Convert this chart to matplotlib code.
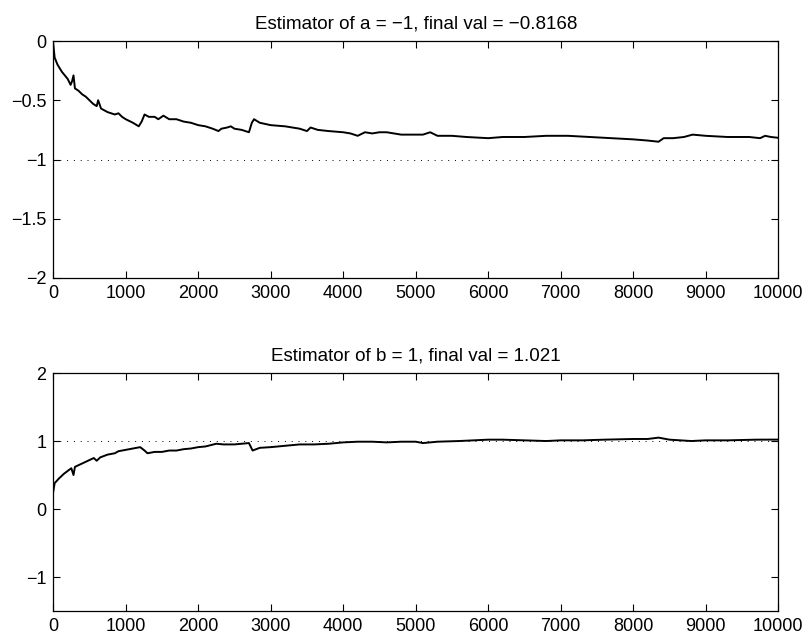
import matplotlib
matplotlib.use("Agg")
from matplotlib import pyplot as plt

plt.rcParams['font.family'] = ['Liberation Sans', 'DejaVu Sans']

# estimator of a
a_iter = [0, 20, 60, 120, 200, 240, 260, 280, 300, 350, 400, 450, 500, 550, 600, 620, 660,
          750, 850, 900, 950, 1000, 1100, 1180, 1220, 1260, 1320, 1400, 1450, 1520, 1600,
          1700, 1800, 1900, 2000, 2100, 2200, 2280, 2320, 2400, 2450, 2500, 2600, 2700,
          2740, 2770, 2850, 3000, 3200, 3400, 3500, 3550, 3650, 3800, 4000, 4100, 4200,
          4300, 4400, 4500, 4600, 4800, 5000, 5100, 5200, 5300, 5500, 5700, 6000, 6200,
          6500, 6800, 7100, 7400, 7700, 8000, 8200, 8350, 8420, 8550, 8700, 8820, 9000,
          9300, 9600, 9750, 9820, 9900, 10000]
a_est = [-0.02, -0.14, -0.20, -0.26, -0.32, -0.37, -0.34, -0.29, -0.40, -0.42, -0.45, -0.47,
         -0.50, -0.53, -0.55, -0.50, -0.57, -0.60, -0.62, -0.61, -0.64, -0.66, -0.69, -0.72,
         -0.68, -0.62, -0.64, -0.64, -0.66, -0.63, -0.66, -0.66, -0.68, -0.69, -0.71, -0.72,
         -0.74, -0.76, -0.74, -0.73, -0.72, -0.74, -0.75, -0.77, -0.69, -0.66, -0.69, -0.71,
         -0.72, -0.74, -0.76, -0.73, -0.75, -0.76, -0.77, -0.78, -0.80, -0.77, -0.78, -0.77,
         -0.77, -0.79, -0.79, -0.79, -0.77, -0.80, -0.80, -0.81, -0.82, -0.81, -0.81, -0.80,
         -0.80, -0.81, -0.82, -0.83, -0.84, -0.85, -0.82, -0.82, -0.81, -0.79, -0.80, -0.81,
         -0.81, -0.82, -0.80, -0.81, -0.8168]

# estimator of b
b_iter = [0, 20, 80, 150, 200, 250, 280, 300, 400, 500, 560, 600, 650, 750, 850, 900, 1000,
          1100, 1200, 1260, 1300, 1400, 1500, 1600, 1700, 1800, 1900, 2000, 2100, 2250, 2350,
          2500, 2600, 2700, 2750, 2850, 3000, 3200, 3400, 3600, 3800, 4000, 4200, 4400, 4600,
          4800, 5000, 5100, 5300, 5600, 6000, 6200, 6500, 6800, 7000, 7300, 7600, 8000, 8200,
          8350, 8500, 8800, 9000, 9300, 9700, 10000]
b_est = [0.25, 0.38, 0.45, 0.52, 0.56, 0.60, 0.50, 0.62, 0.67, 0.72, 0.75, 0.71, 0.76, 0.80,
         0.82, 0.85, 0.87, 0.89, 0.91, 0.86, 0.82, 0.84, 0.84, 0.86, 0.86, 0.88, 0.89, 0.91,
         0.92, 0.96, 0.95, 0.95, 0.96, 0.97, 0.86, 0.90, 0.91, 0.93, 0.95, 0.95, 0.96, 0.98,
         0.99, 0.99, 0.98, 0.99, 0.99, 0.97, 0.99, 1.00, 1.02, 1.02, 1.01, 1.00, 1.01, 1.01,
         1.02, 1.03, 1.03, 1.05, 1.02, 1.00, 1.01, 1.01, 1.02, 1.021]

a_true = -1
b_true = 1
n_iter = 10000


def minus(s):
    return s.replace('-', '\u2212')


fig = plt.figure(figsize=(8.06, 6.37), dpi=100)
ax1 = fig.add_axes([0.066, 0.5636, 0.8995, 0.372])
ax2 = fig.add_axes([0.066, 0.0408, 0.8995, 0.3736])

panels = [
    (ax1, a_iter, a_est, a_true, (-2, 0), [-2, -1.5, -1, -0.5, 0], 'a'),
    (ax2, b_iter, b_est, b_true, (-1.5, 2), [-1, 0, 1, 2], 'b'),
]

for ax, xs, ys, true_val, ylim, yticks, name in panels:
    ax.plot(xs, ys, color='black', lw=1.4)
    ax.plot([0, n_iter], [true_val, true_val], color='black', lw=0.7, linestyle=(0, (1, 6)))
    ax.set_xlim(0, n_iter)
    ax.set_ylim(*ylim)
    ax.set_xticks(range(0, n_iter + 1, 1000))
    ax.set_yticks(yticks)
    ax.set_yticklabels([minus('%g' % t) for t in yticks])
    ax.tick_params(direction='in', top=True, right=True, length=5, width=0.8, labelsize=13, pad=5)
    for sp in ax.spines.values():
        sp.set_linewidth(0.9)
    ax.set_title('Estimator of %s = %s, final val = %s' % (name, minus('%g' % true_val),
                 minus('%.4g' % ys[-1])), fontsize=13.5, pad=9)

fig.savefig('out.png', dpi=100)
